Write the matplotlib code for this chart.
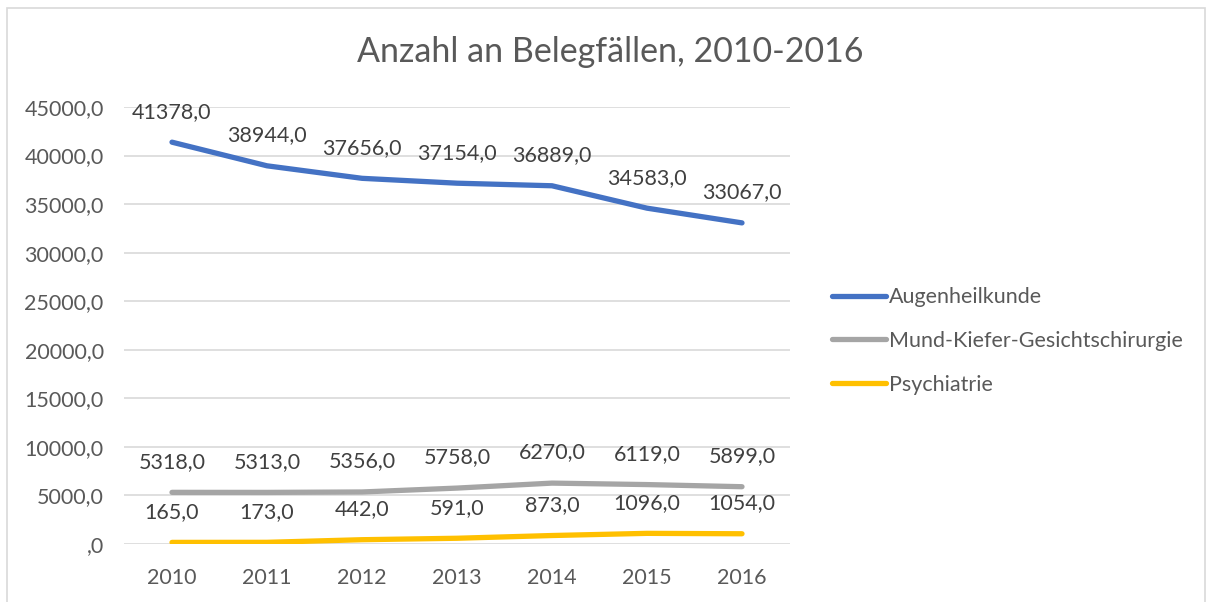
import matplotlib.pyplot as plt
from matplotlib.patches import Rectangle

years = ['2010', '2011', '2012', '2013', '2014', '2015', '2016']
augen = [41378, 38944, 37656, 37154, 36889, 34583, 33067]
mkg = [5318, 5313, 5356, 5758, 6270, 6119, 5899]
psych = [165, 173, 442, 591, 873, 1096, 1054]
series_names = ['Augenheilkunde', 'Mund-Kiefer-Gesichtschirurgie', 'Psychiatrie']
colors = ['#4472C4', '#A5A5A5', '#FFC000']
yticks = [0, 5000, 10000, 15000, 20000, 25000, 30000, 35000, 40000, 45000]

plt.rcParams['font.family'] = ['Lato', 'DejaVu Sans']
text_col = '#595959'
fs = 15.5

fig = plt.figure(figsize=(12.12, 6.02), dpi=100)
ax = fig.add_axes([124.5 / 1212, 58 / 602, 665 / 1212, 437 / 602])

# chart border
fig.patches.append(Rectangle((7 / 1212, -0.01), 1198 / 1212, 0.997, transform=fig.transFigure,
                             fill=False, edgecolor='#D9D9D9', linewidth=1.2))

x = list(range(len(years)))
for vals, name, c in zip([augen, mkg, psych], series_names, colors):
    ax.plot(x, vals, color=c, linewidth=3.8, solid_capstyle='round', solid_joinstyle='round', label=name)
    for xi, v in zip(x, vals):
        ax.annotate(f'{v},0', (xi, v), xytext=(0, 22), textcoords='offset points',
                    ha='center', va='center', fontsize=fs, color='#404040')

ax.set_xlim(-0.5, 6.5)
ax.set_ylim(0, 45000)
ax.set_xticks(x)
ax.set_xticklabels(years)
ax.set_yticks(yticks)
ax.set_yticklabels([f'{t},0' if t else ',0' for t in yticks])
ax.tick_params(length=0, labelsize=fs, labelcolor=text_col)
ax.tick_params(axis='y', pad=15)
ax.tick_params(axis='x', pad=17)
ax.grid(axis='y', color='#D9D9D9', linewidth=1.2)
ax.set_axisbelow(True)
for s in ax.spines.values():
    s.set_visible(False)

fig.text(610 / 1212, 1 - 52 / 602, 'Anzahl an Belegfällen, 2010-2016', ha='center', va='center',
         fontsize=24.5, color=text_col)

fig.legend(loc='center left', bbox_to_anchor=(813 / 1212, 1 - 341 / 602), frameon=False,
           fontsize=fs, labelcolor=text_col, handlelength=2.5, handletextpad=0.15, labelspacing=1.1)

fig.savefig('out.png', dpi=100)
